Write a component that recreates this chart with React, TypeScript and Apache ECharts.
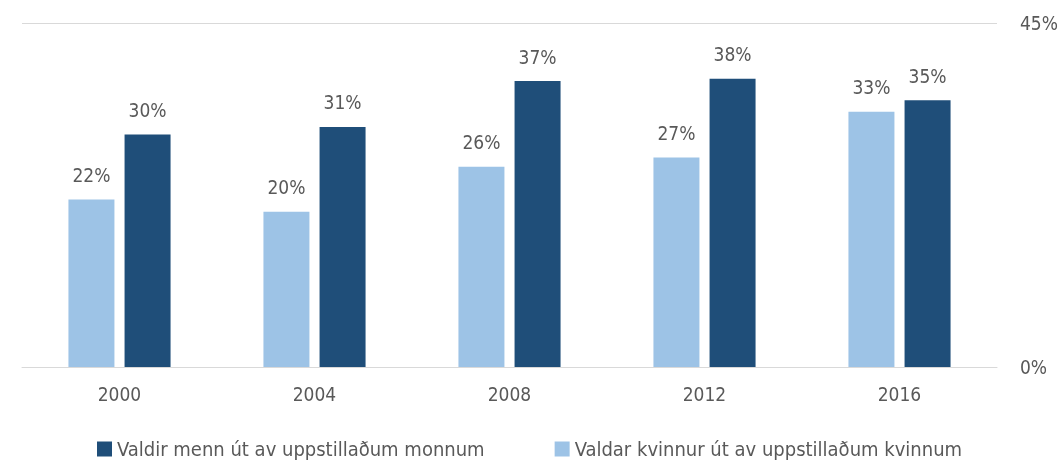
import React, { useEffect, useRef } from "react";
import * as echarts from "echarts";

const categories = ["2000", "2004", "2008", "2012", "2016"];
const womenName = "Valdar kvinnur út av uppstillaðum kvinnum";
const menName = "Valdir menn út av uppstillaðum monnum";
const womenValues = [21.9, 20.3, 26.2, 27.4, 33.4];
const menValues = [30.4, 31.4, 37.4, 37.7, 34.9];
const yTicks = [0, 45];

const FONT = "'Liberation Sans Narrow', 'DejaVu Sans Condensed', 'Liberation Sans', sans-serif";
const TEXT = "#595959";

export default function App() {
  const ref = useRef<HTMLDivElement>(null);
  useEffect(() => {
    document.body.style.margin = "0";
    const chart = echarts.init(ref.current!, null, { renderer: "svg" });
    const label = {
      show: true,
      position: "top",
      distance: 15,
      color: TEXT,
      fontSize: 19,
      fontFamily: FONT,
      formatter: (p: any) => Math.round(p.value) + "%",
    };
    chart.setOption({
      animation: false,
      textStyle: { fontFamily: FONT },
      grid: { left: 22, right: 65, top: 23, bottom: 95, containLabel: false },
      legend: {
        data: [menName, womenName],
        left: 92,
        top: 434,
        icon: "rect",
        itemWidth: 15,
        itemHeight: 15,
        itemGap: 70,
        textStyle: { color: TEXT, fontSize: 20, fontFamily: FONT },
      },
      xAxis: {
        type: "category",
        data: categories,
        axisLine: { show: true, lineStyle: { color: "#D9D9D9", width: 1 } },
        axisTick: { show: false },
        axisLabel: { color: TEXT, fontSize: 19, fontFamily: FONT, margin: 17 },
      },
      yAxis: {
        type: "value",
        position: "right",
        min: yTicks[0],
        max: yTicks[1],
        interval: 45,
        axisLine: { show: false },
        axisTick: { show: false },
        splitLine: { show: true, lineStyle: { color: "#D9D9D9", width: 1 } },
        axisLabel: {
          color: TEXT,
          fontSize: 19,
          fontFamily: FONT,
          margin: 23,
          formatter: "{value}%",
        },
      },
      series: [
        {
          name: womenName,
          type: "bar",
          data: womenValues,
          barWidth: 46,
          barGap: "22%",
          itemStyle: { color: "#9DC3E6" },
          label,
        },
        {
          name: menName,
          type: "bar",
          data: menValues,
          barWidth: 46,
          barGap: "22%",
          itemStyle: { color: "#1F4E79" },
          label,
        },
      ],
    });
    return () => chart.dispose();
  }, []);
  return (
    <div
      ref={ref}
      style={{ position: "fixed", left: 0, top: 0, width: 1062, height: 462 }}
    />
  );
}
